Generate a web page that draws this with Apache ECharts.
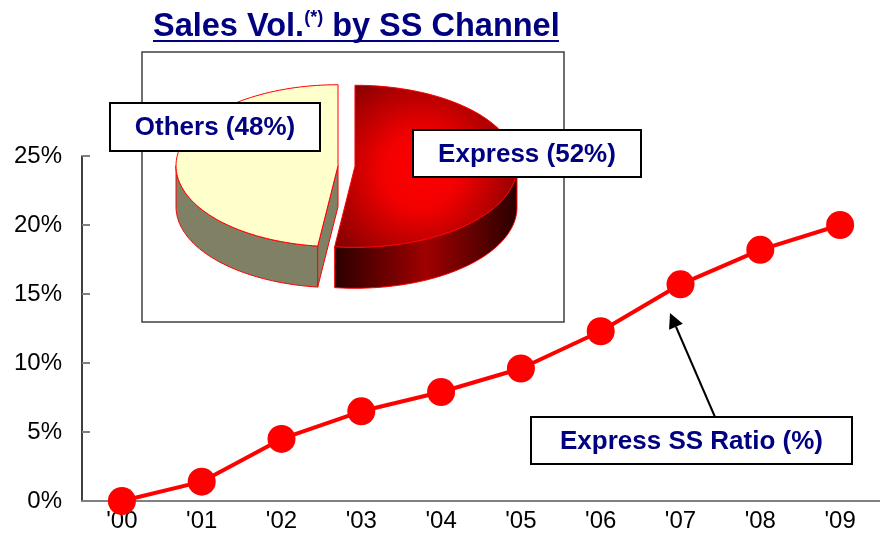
<!DOCTYPE html>
<html>
<head>
<meta charset="utf-8">
<script src="https://cdn.jsdelivr.net/npm/echarts@6/dist/echarts.min.js"></script>
<style>
html,body{margin:0;padding:0;background:#fff;}
#chart{width:880px;height:548px;}
</style>
</head>
<body>
<div id="chart"></div>
<script>
// ---- data ----
const years = ["'00","'01","'02","'03","'04","'05","'06","'07","'08","'09"];
const expressRatio = [0, 1.4, 4.5, 6.5, 7.9, 9.6, 12.3, 15.7, 18.2, 20.0];
const yTickValues = [0, 5, 10, 15, 20, 25];
const pieNames = ['Express', 'Others'];
const pieValues = [52, 48];
const titleMain = 'Sales Vol.';
const titleSup = '(*)';
const titleRest = ' by SS Channel';
const lineLabel = 'Express SS Ratio (%)';

// ---- layout / style ----
const FONT = '"Liberation Sans", Arial, sans-serif';
const NAVY = '#000080';
const PIE = { cx: 346.5, cy: 166, rx: 162, ry: 81, depth: 41, explode: 8.5 };
const pieStyles = [
  {
    top: { type: 'radial', x: 0.47, y: 0.53, r: 0.78, colorStops: [
      { offset: 0, color: '#ff0000' }, { offset: 0.3, color: '#f20000' }, { offset: 1, color: '#6a0000' }] },
    side: { type: 'linear', x: 0, y: 0, x2: 1, y2: 0, colorStops: [
      { offset: 0, color: '#2a0000' }, { offset: 0.5, color: '#a00000' }, { offset: 1, color: '#2a0000' }] },
    face: '#600000'
  },
  { top: '#ffffcc', side: '#808064', face: '#808064' }
];

function renderPie(params, api) {
  const i = params.dataIndex;
  const total = pieValues.reduce((a, b) => a + b, 0);
  let before = 0;
  for (let k = 0; k < i; k++) before += pieValues[k];
  const val = api.value(0);
  const a1 = before / total * 2 * Math.PI;
  const a2 = (before + val) / total * 2 * Math.PI;
  const mid = (a1 + a2) / 2;
  const cx = PIE.cx + PIE.explode * Math.sin(mid);
  const cy = PIE.cy - PIE.explode * Math.cos(mid) * PIE.ry / PIE.rx;
  const D = PIE.depth;
  const pt = (a, dy) => [cx + PIE.rx * Math.sin(a), cy - PIE.ry * Math.cos(a) + (dy || 0)];
  const steps = 90;
  const st = pieStyles[i];
  const children = [];
  // outer rim (front half only)
  const r1 = Math.max(a1, Math.PI / 2), r2 = Math.min(a2, 1.5 * Math.PI);
  if (r2 > r1) {
    const rim = [];
    for (let s = 0; s <= steps; s++) rim.push(pt(r1 + (r2 - r1) * s / steps));
    for (let s = steps; s >= 0; s--) rim.push(pt(r1 + (r2 - r1) * s / steps, D));
    children.push({ type: 'polygon', shape: { points: rim },
      style: { fill: st.side, stroke: '#ff0000', lineWidth: 1 } });
  }
  // radial cut faces
  const faces = [];
  if (Math.sin(a1) < -1e-6) faces.push(a1);
  if (Math.sin(a2) > 1e-6) faces.push(a2);
  faces.forEach(a => {
    const p = pt(a);
    children.push({ type: 'polygon',
      shape: { points: [[cx, cy], p, [p[0], p[1] + D], [cx, cy + D]] },
      style: { fill: st.face, stroke: '#ff0000', lineWidth: 1 } });
  });
  // top face
  const top = [[cx, cy]];
  for (let s = 0; s <= steps; s++) top.push(pt(a1 + (a2 - a1) * s / steps));
  children.push({ type: 'polygon', shape: { points: top },
    style: { fill: st.top, stroke: '#ff0000', lineWidth: 1 } });
  return { type: 'group', children: children };
}

function labelBox(x, y, w, h, text) {
  return [
    { type: 'rect', z: 20, shape: { x: x, y: y, width: w, height: h },
      style: { fill: '#ffffff', stroke: '#000000', lineWidth: 2 } },
    { type: 'text', z: 21, x: x + w / 2, y: y + h / 2 + 1,
      style: { text: text, fill: NAVY, font: 'bold 26px ' + FONT, align: 'center', verticalAlign: 'middle' } }
  ];
}

// arrow geometry (annotation)
const arrowTail = [715, 417], arrowTip = [670, 313];
const adx = arrowTip[0] - arrowTail[0], ady = arrowTip[1] - arrowTail[1];
const alen = Math.sqrt(adx * adx + ady * ady);
const ux = adx / alen, uy = ady / alen;
const headL = 15, headW = 7.5;
const baseC = [arrowTip[0] - ux * headL, arrowTip[1] - uy * headL];
const arrowHead = [arrowTip, [baseC[0] - uy * headW, baseC[1] + ux * headW], [baseC[0] + uy * headW, baseC[1] - ux * headW]];

const chart = echarts.init(document.getElementById('chart'), null, { renderer: 'canvas' });
const option = {
  animation: false,
  backgroundColor: '#ffffff',
  grid: { left: 82, right: -1, top: 156, bottom: 47, containLabel: false },
  xAxis: {
    type: 'category',
    data: years,
    boundaryGap: true,
    axisLine: { lineStyle: { color: '#808080', width: 2 } },
    axisTick: { inside: true, length: 8, lineStyle: { color: '#000000', width: 1.5 } },
    axisLabel: { color: '#000000', fontFamily: FONT, fontSize: 24, margin: 8 },
    splitLine: { show: false }
  },
  yAxis: {
    type: 'value',
    min: yTickValues[0],
    max: yTickValues[yTickValues.length - 1],
    interval: yTickValues[1] - yTickValues[0],
    axisLine: { show: true, lineStyle: { color: '#000000', width: 1.5 } },
    axisTick: { show: true, inside: true, length: 8, lineStyle: { color: '#808080', width: 2 } },
    axisLabel: { color: '#000000', fontFamily: FONT, fontSize: 24, margin: 20, padding: [3, 0, 0, 0], formatter: '{value}%' },
    splitLine: { show: false }
  },
  series: [
    {
      type: 'line',
      data: expressRatio,
      symbol: 'circle',
      symbolSize: 28,
      itemStyle: { color: '#ff0000' },
      lineStyle: { color: '#ff0000', width: 4 },
      z: 5
    },
    {
      type: 'custom',
      coordinateSystem: 'none',
      renderItem: renderPie,
      data: pieValues.map((v, k) => ({ name: pieNames[k], value: [v] })),
      silent: true,
      z: 3
    }
  ],
  graphic: [
    { type: 'rect', z: 0, shape: { x: 142, y: 52, width: 422, height: 270 },
      style: { fill: '#ffffff', stroke: '#404040', lineWidth: 1.5 } },
    { type: 'text', z: 10, x: 153, y: 9,
      style: {
        text: '{a|' + titleMain + '}{s|' + titleSup + '}{a|' + titleRest + '}',
        verticalAlign: 'top', align: 'left',
        rich: {
          a: { fontFamily: FONT, fontSize: 32.5, fontWeight: 'bold', fill: NAVY, color: NAVY, lineHeight: 36 },
          s: { fontFamily: FONT, fontSize: 18, fontWeight: 'bold', fill: NAVY, color: NAVY, verticalAlign: 'top', lineHeight: 20 }
        }
      } },
    { type: 'line', z: 10, shape: { x1: 153, y1: 41, x2: 559, y2: 41 },
      style: { stroke: NAVY, lineWidth: 2 } },
    ...labelBox(110, 103, 210, 48, pieNames[1] + ' (' + pieValues[1] + '%)'),
    ...labelBox(413, 130, 228, 47, pieNames[0] + ' (' + pieValues[0] + '%)'),
    { type: 'line', z: 10, shape: { x1: arrowTail[0], y1: arrowTail[1], x2: baseC[0], y2: baseC[1] },
      style: { stroke: '#000000', lineWidth: 2 } },
    { type: 'polygon', z: 10, shape: { points: arrowHead }, style: { fill: '#000000' } },
    ...labelBox(531, 417, 321, 47, lineLabel)
  ]
};
chart.setOption(option);
</script>
</body>
</html>
